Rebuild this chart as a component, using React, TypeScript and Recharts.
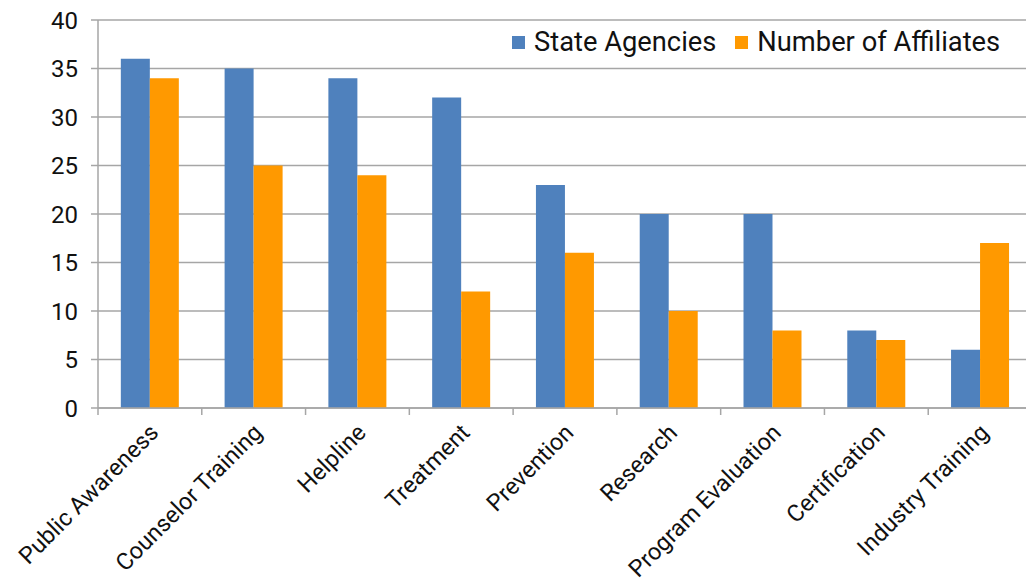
import { BarChart, Bar, XAxis, YAxis, CartesianGrid } from "recharts"

const categories = [
  "Public Awareness",
  "Counselor Training",
  "Helpline",
  "Treatment",
  "Prevention",
  "Research",
  "Program Evaluation",
  "Certification",
  "Industry Training",
]
const stateAgencies = [36, 35, 34, 32, 23, 20, 20, 8, 6]
const affiliates = [34, 25, 24, 12, 16, 10, 8, 7, 17]
const yTicks = [0, 5, 10, 15, 20, 25, 30, 35, 40]

const series = [
  { key: "state", name: "State Agencies", color: "#4F81BD" },
  { key: "affiliates", name: "Number of Affiliates", color: "#FF9900" },
]

const data = categories.map((name, i) => ({
  name,
  state: stateAgencies[i],
  affiliates: affiliates[i],
}))

const CHART_W = 1034
const CHART_H = 586
const MARGIN = { top: 20, right: 2, bottom: 8, left: 38 }
const Y_WIDTH = 60
const BAND = (CHART_W - MARGIN.left - MARGIN.right - Y_WIDTH) / categories.length
const GRID = "#A6A6A6"
const FONT = "Roboto, 'Noto Sans', sans-serif"

function CategoryTick(props: any) {
  const { x, y, payload, index } = props
  const last = index === categories.length - 1
  const tx = x + 10
  const ty = y + 26
  return (
    <g>
      <line x1={x - BAND / 2} y1={y} x2={x - BAND / 2} y2={y + 7} stroke={GRID} strokeWidth={1.5} />
      {last && <line x1={x + BAND / 2} y1={y} x2={x + BAND / 2} y2={y + 7} stroke={GRID} strokeWidth={1.5} />}
      <text
        x={tx}
        y={ty}
        transform={`rotate(-45 ${tx} ${ty})`}
        textAnchor="end"
        fontSize={23.5}
        fontFamily={FONT}
        fill="#111"
      >
        {payload.value}
      </text>
    </g>
  )
}

export default function App() {
  return (
    <div style={{ position: "absolute", left: 0, top: 0, width: 1026, height: 586, overflow: "hidden", background: "#fff" }}>
      <BarChart width={CHART_W} height={CHART_H} data={data} margin={MARGIN} barCategoryGap="22%" barGap={0}>
        <CartesianGrid vertical={false} stroke={GRID} strokeWidth={1.5} />
        <XAxis
          dataKey="name"
          interval={0}
          height={170}
          tickLine={false}
          tickSize={0}
          tickMargin={0}
          axisLine={{ stroke: GRID, strokeWidth: 1.5 }}
          tick={<CategoryTick />}
        />
        <YAxis
          width={Y_WIDTH}
          domain={[0, 40]}
          ticks={yTicks}
          interval={0}
          tickSize={7}
          tickMargin={13}
          tickLine={{ stroke: GRID, strokeWidth: 1.5 }}
          axisLine={{ stroke: GRID, strokeWidth: 1.5 }}
          tick={{ fontSize: 24, fontFamily: FONT, fill: "#111" }}
        />
        {series.map((s) => (
          <Bar key={s.key} dataKey={s.key} name={s.name} fill={s.color} isAnimationActive={false} />
        ))}
      </BarChart>
      <div
        style={{
          position: "absolute",
          left: 512,
          top: 26,
          display: "flex",
          alignItems: "center",
          fontFamily: FONT,
          fontSize: 27.3,
          color: "#111",
        }}
      >
        {series.map((s, i) => (
          <div key={s.key} style={{ display: "flex", alignItems: "center", marginRight: i === 0 ? 19 : 0 }}>
            <span style={{ width: 13, height: 13, background: s.color, display: "inline-block", marginRight: 9 }} />
            <span>{s.name}</span>
          </div>
        ))}
      </div>
    </div>
  )
}
